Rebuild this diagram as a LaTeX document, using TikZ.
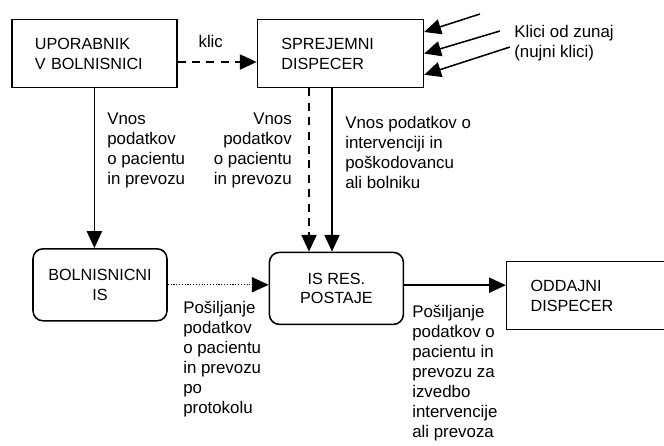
\documentclass[tikz,border=0pt]{standalone}
\usepackage{fontspec}
\setmainfont{Liberation Sans}
\usepackage{tikz}
\usetikzlibrary{arrows.meta}
\tikzstyle{block} = [rectangle, minimum width=4.15cm, minimum height=1.7cm, text width=2.95cm, align=left, draw=black, line width=1.1pt, font=\fontsize{11.5}{14}\selectfont]
\tikzstyle{roundblock} = [rectangle, rounded corners=0.25cm, minimum width=3.35cm, minimum height=1.8cm, align=center, draw=black, line width=1.1pt, font=\fontsize{11.5}{14}\selectfont]
\tikzstyle{note} = [align=left, inner sep=0pt, font=\fontsize{12}{14.2}\selectfont]
\tikzstyle{arrow} = [line width=1.1pt, -{Triangle[length=0.42cm, width=0.38cm]}]
\tikzstyle{dasharrow} = [arrow, dash pattern=on 0.2cm off 0.16cm]
\tikzstyle{dotarrow} = [arrow, line width=0.8pt, dash pattern=on 0.8pt off 1.2pt]

\begin{document}
\begin{tikzpicture}[node distance=2cm]
\useasboundingbox (0,0) rectangle (16.6,-11.15);
\clip (0,0) rectangle (16.6,-11.15);

\node (user) [block, minimum width=4.125cm, text width=2.975cm] at (2.36,-1.34) {UPORABNIK\\V BOLNISNICI};
\node (sprejemni) [block, right of=user, xshift=4.15cm] {SPREJEMNI\\DISPECER};
\node (isres) [roundblock, below of=sprejemni, xshift=-0.1cm, yshift=-3.87cm] {IS RES.\\POSTAJE};
\node (bolnis) [roundblock, left of=isres, xshift=-3.91cm, yshift=0.09cm] {BOLNISNICNI\\IS};
\node (oddajni) [block, right of=isres, xshift=4.38cm, yshift=-0.18cm, minimum width=4.25cm, text width=3.05cm] {ODDAJNI\\DISPECER};

\node (txtklici) [note, anchor=north west] at (12.85,-0.625) {Klici od zunaj\\(nujni klici)};
\node (txtuser) [note, anchor=north west] at (2.675,-2.825) {Vnos\\podatkov\\o pacientu\\in prevozu};
\node (txtsprej) [note, anchor=north east, align=right] at (7.3,-2.825) {Vnos\\podatkov\\o pacientu\\in prevozu};
\node (txtinterv) [note, anchor=north west] at (8.625,-2.9) {Vnos podatkov o\\intervenciji in\\poškodovancu\\ali bolniku};
\node (txtbolnis) [note, anchor=north west] at (4.575,-7.525) {Pošiljanje\\podatkov\\o pacientu\\in prevozu\\po\\protokolu};
\node (txtoddaj) [note, anchor=north west] at (10.3,-7.625) {Pošiljanje\\podatkov o\\pacientu in\\prevozu za\\izvedbo\\intervencije\\ali prevoza};

\coordinate (k1) at (12.0,-0.35);
\coordinate (k2) at (12.5,-0.775);
\coordinate (k3) at (12.75,-1.175);

\draw [dasharrow] ([yshift=-0.21cm]user.east) -- node[note, anchor=south, yshift=0.35cm, xshift=-0.16cm]{klic} ([yshift=-0.21cm]user.east -| sprejemni.west);
\draw [arrow] (user.south) -- (user.south |- bolnis.north);
\draw [dasharrow] ([xshift=-0.785cm]sprejemni.south) -- ([xshift=-0.785cm]sprejemni.south |- isres.north);
\draw [arrow] ([xshift=-0.21cm]sprejemni.south) -- ([xshift=-0.21cm]sprejemni.south |- isres.north);
\draw [dotarrow] (bolnis.east) -- (bolnis.east -| isres.west);
\draw [arrow] ([yshift=0.08cm]isres.east) -- ([yshift=0.08cm]isres.east -| oddajni.west);

\draw [arrow] (k1) -- ([yshift=0.54cm]sprejemni.east);
\draw [arrow] (k2) -- (sprejemni.east);
\draw [arrow] (k3) -- ([yshift=-0.53cm]sprejemni.east);

\end{tikzpicture}
\end{document}
